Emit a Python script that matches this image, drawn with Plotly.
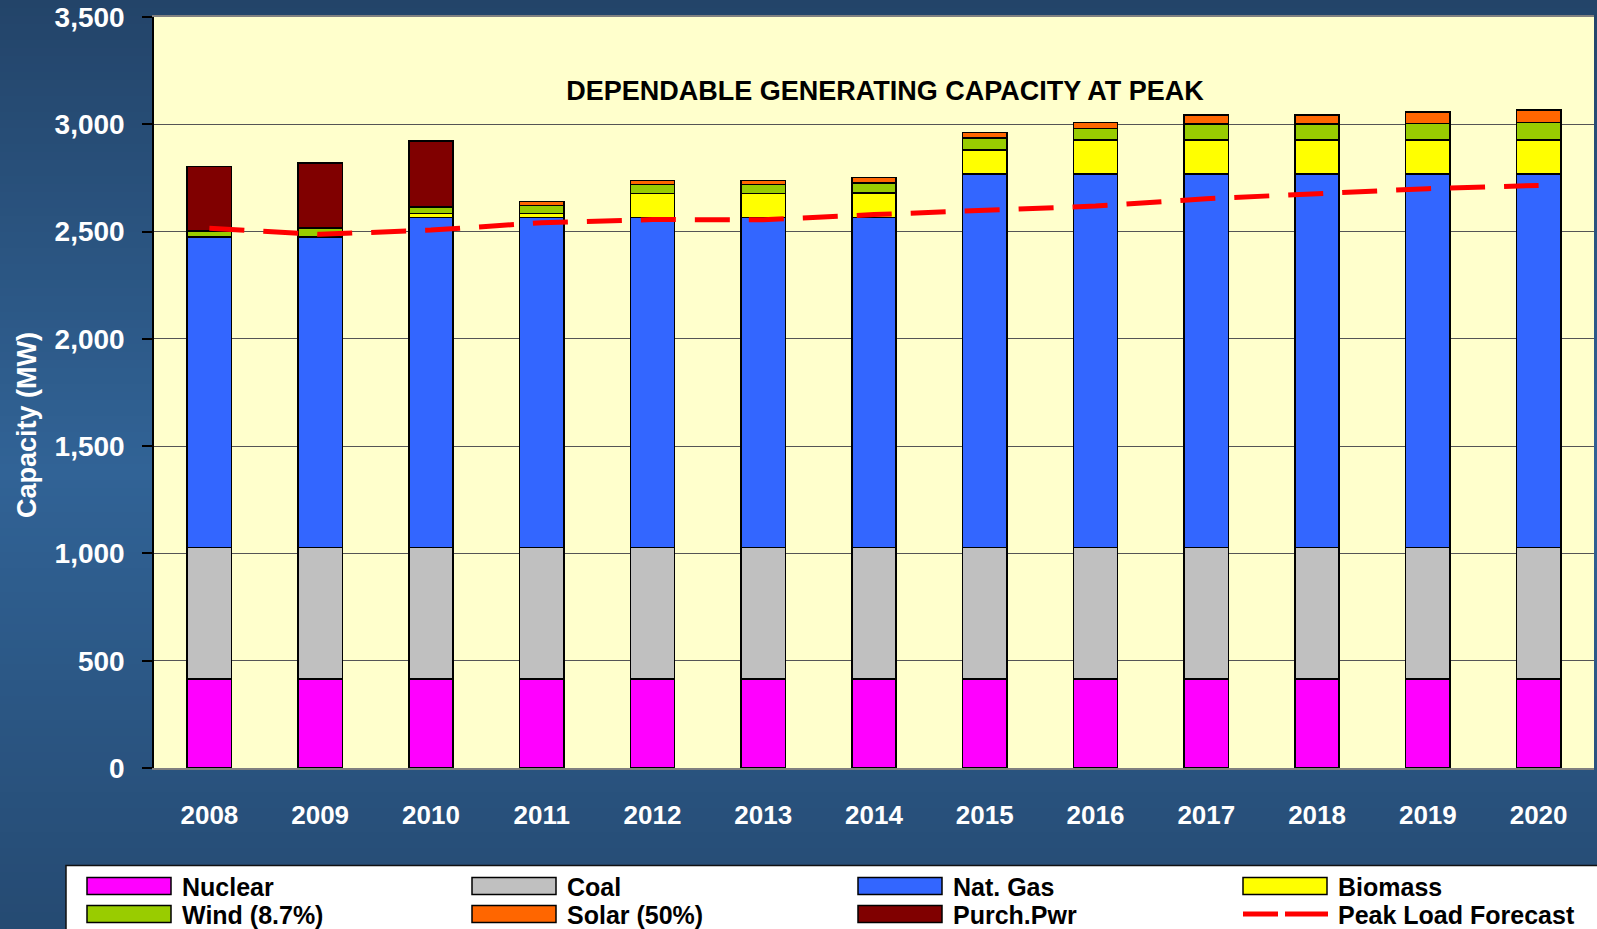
import plotly.graph_objects as go

years = ["2008", "2009", "2010", "2011", "2012", "2013", "2014",
         "2015", "2016", "2017", "2018", "2019", "2020"]

nuclear = [415] * 13
coal = [612] * 13
nat_gas = [1445, 1445, 1539, 1539, 1539, 1539, 1539, 1741, 1741, 1741, 1741, 1741, 1741]
biomass = [5, 5, 18, 18, 112, 112, 113, 112, 158, 158, 158, 158, 158]
wind = [25, 40, 31, 37, 42, 42, 47, 57, 55, 75, 75, 77, 83]
solar = [0, 0, 0, 19, 17, 17, 25, 25, 28, 42, 42, 55, 57]
purch_pwr = [302, 303, 306, 0, 0, 0, 0, 0, 0, 0, 0, 0, 0]
peak_load = [2515, 2487, 2507, 2541, 2556, 2555, 2579, 2600, 2619, 2653, 2676, 2700, 2715]

series_names = ["Nuclear", "Coal", "Nat. Gas", "Biomass", "Wind (8.7%)", "Solar (50%)", "Purch.Pwr"]
series_values = [nuclear, coal, nat_gas, biomass, wind, solar, purch_pwr]
series_colors = ["#FF00FF", "#C0C0C0", "#3366FF", "#FFFF00", "#99CC00", "#FF6600", "#800000"]
line_name = "Peak Load Forecast"
line_color = "#FF0000"

W, H = 1597, 929
ML, MR, MT, MB = 154, 3, 17, 161
PW = W - ML - MR
PH = H - MT - MB
FONT = "Liberation Sans, Arial, Helvetica, sans-serif"


def px_x(px):
    return (px - ML) / PW


def px_y(py):
    return (H - MB - py) / PH


fig = go.Figure()
for name, vals, col in zip(series_names, series_values, series_colors):
    fig.add_trace(go.Bar(
        x=years, y=vals, name=name,
        marker=dict(color=col, line=dict(color="black", width=1.5)),
        showlegend=False,
    ))

fig.add_trace(go.Scatter(
    x=years, y=peak_load, name=line_name, mode="lines",
    line=dict(color=line_color, width=5, dash="35px,19px"),
    showlegend=False,
))

shapes = []
# background gradient (dark blue, lighter in the middle)
stops = [(0, (35, 68, 105)), (470, (49, 99, 150)), (929, (37, 74, 114))]


def grad(py):
    for (y0, c0), (y1, c1) in zip(stops[:-1], stops[1:]):
        if y0 <= py <= y1:
            t = (py - y0) / (y1 - y0)
            return "rgb(%d,%d,%d)" % tuple(round(a + (b - a) * t) for a, b in zip(c0, c1))
    return "rgb(%d,%d,%d)" % stops[-1][1]


step = 8
for py in range(0, H, step):
    shapes.append(dict(
        type="rect", xref="paper", yref="paper", layer="below",
        x0=px_x(-2), x1=px_x(W + 2), y0=px_y(py + step + 1), y1=px_y(py),
        fillcolor=grad(py + step / 2), line=dict(width=0),
    ))
# plot area fill
shapes.append(dict(type="rect", xref="x domain", yref="y domain", layer="below",
                   x0=0, x1=1, y0=0, y1=1, fillcolor="#FFFFCC", line=dict(width=0)))

# legend box
shapes.append(dict(type="rect", xref="paper", yref="paper", layer="above",
                   x0=px_x(66), x1=px_x(W + 5), y0=px_y(H + 5), y1=px_y(865.5),
                   fillcolor="white", line=dict(color="#111111", width=1.5)))

annotations = []
col_x = [87, 472, 858, 1243]
row_y = [886, 914]
entries = list(zip(series_names, series_colors)) + [(line_name, None)]
for i, (name, col) in enumerate(entries):
    cx = col_x[i % 4]
    cy = row_y[i // 4]
    if col is not None:
        shapes.append(dict(type="rect", xref="paper", yref="paper", layer="above",
                           x0=px_x(cx), x1=px_x(cx + 84), y0=px_y(cy + 8.5), y1=px_y(cy - 8.5),
                           fillcolor=col, line=dict(color="black", width=1.5)))
    else:
        for a, b in [(cx, cx + 35), (cx + 42, cx + 85)]:
            shapes.append(dict(type="line", xref="paper", yref="paper", layer="above",
                               x0=px_x(a), x1=px_x(b), y0=px_y(cy), y1=px_y(cy),
                               line=dict(color=line_color, width=5)))
    annotations.append(dict(
        xref="paper", yref="paper", x=px_x(cx + 93), y=px_y(cy + 1),
        xanchor="left", yanchor="middle", showarrow=False, text=name,
        font=dict(family=FONT, size=25, color="black", weight="bold"),
    ))

# y-axis title (placed as in the reference, below the axis centre)
annotations.append(dict(
    xref="paper", yref="paper", x=px_x(27), y=px_y(425),
    xanchor="center", yanchor="middle", showarrow=False, textangle=-90,
    text="Capacity (MW)",
    font=dict(family=FONT, size=27, color="white", weight="bold"),
))

fig.update_layout(
    width=W, height=H,
    margin=dict(l=ML, r=MR, t=MT, b=MB, pad=0),
    paper_bgcolor="#2B5784",
    plot_bgcolor="rgba(0,0,0,0)",
    barmode="stack",
    bargap=0.6,
    title=dict(
        text="DEPENDABLE GENERATING CAPACITY AT PEAK",
        x=px_x(885), xref="paper", xanchor="center",
        y=1 - 91 / H, yref="container", yanchor="middle",
        font=dict(family=FONT, size=27, color="black", weight="bold"),
    ),
    xaxis=dict(
        type="category", showgrid=False, ticks="",
        showline=True, linecolor="#808080", linewidth=1.5, mirror=True,
        tickfont=dict(family=FONT, size=26, color="white", weight="bold"),
        ticklabelstandoff=23,
    ),
    yaxis=dict(
        range=[0, 3500], dtick=500, tickformat=",d",
        showgrid=True, gridcolor="#555555", gridwidth=1,
        zeroline=False,
        showline=True, linecolor="black", linewidth=1.5,
        ticks="outside", ticklen=10, tickcolor="black", tickwidth=1.5,
        tickfont=dict(family=FONT, size=28, color="white", weight="bold"),
        ticklabelstandoff=12,
    ),
    shapes=shapes,
    annotations=annotations,
    showlegend=False,
)

fig.write_html(
    "out.html",
    config={"displayModeBar": False},
    post_script="document.body.style.margin='0px';document.body.style.overflow='hidden';",
)
